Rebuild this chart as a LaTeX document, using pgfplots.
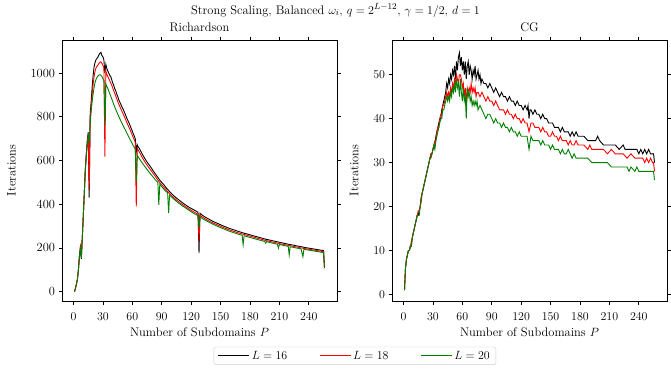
\documentclass[border=0pt]{standalone}
\usepackage{pgfplots}
\pgfplotsset{compat=1.18}
\definecolor{mplgreen}{RGB}{0,128,0}
\newcommand\figfont{\fontsize{12.5}{15}\selectfont}

\begin{document}
\begin{tikzpicture}
\path (0bp,0bp) rectangle (671bp,-370bp);
\pgfplotsset{
  panel/.style={
    width=275bp, height=261bp, scale only axis, anchor=north west,
    xmin=-11.75, xmax=268.75, xtick={0,30,...,240},
    font=\figfont,
    tick align=outside, major tick length=3.5bp,
    tick pos=both, xticklabel pos=lower, yticklabel pos=left,
    xticklabel style={yshift=-5bp},
    every tick/.style={black, line width=0.8bp},
    axis line style={line width=0.8bp},
    xlabel={Number of Subdomains $P$}, ylabel={Iterations},
    ylabel style={yshift=8bp},
    title style={anchor=south, yshift=-1bp},
    every axis plot/.append style={line width=0.9bp, mark=none},
  },
}
\node[anchor=base, font=\figfont] at (335.5bp,-14bp)
  {Strong Scaling, Balanced $\omega_i$, $q=2^{L-12}$, $\gamma=1/2$, $d=1$};

% Richardson
\begin{axis}[panel, at={(62bp,-40bp)}, title={Richardson},
  ymin=-43, ymax=1152, ytick={0,200,400,600,800,1000},
  yticklabels={0,200,400,600,800,1000},
  legend columns=3,
  legend image code/.code={\draw[#1] (0bp,0bp) -- (31bp,0bp);},
  legend style={at={(1.065,-0.21)}, anchor=center, draw=black!20,
    rounded corners=2bp, inner xsep=4bp, inner ysep=2bp,
    /tikz/every even column/.append style={column sep=30bp}},
]
\addplot[black] coordinates {(1,0)(2,15)(3,35)(4,57)(5,100)(6,160)(7,200)(8,150)(9,250)(10,350)(11,450)(12,560)(13,630)(14,690)(15,730)(16,430)(17,810)(18,870)(19,935)(20,990)(21,1030)(22,1050)(23,1062)(24,1068)(25,1075)(26,1085)(27,1092)(28,1095)(29,1080)(30,1075)(31,1060)(32,1000)(33,1040)(34,1020)(35,1010)(36,1000)(37,990)(38,984)(39,970)(40,955)(41,945)(42,930)(43,920)(44,905)(45,895)(46,880)(47,870)(48,860)(49,850)(50,840)(51,832)(52,820)(53,810)(54,798)(55,788)(56,778)(57,768)(58,757)(59,745)(60,735)(61,722)(62,712)(63,700)(64,640)(65,672)(66,662)(67,656)(68,648)(70,630)(72,615)(74,600)(76,587)(78,575)(80,562)(82,548)(84,536)(86,523)(88,510)(90,500)(92,490)(94,478)(96,468)(98,458)(100,449)(102,440)(104,432)(106,425)(108,418)(110,411)(112,404)(114,398)(116,392)(118,386)(120,381)(122,376)(124,371)(126,366)(127,363)(128,176)(129,359)(130,355)(132,348)(134,342)(136,337)(138,332)(140,327)(142,322)(144,318)(146,314)(148,310)(150,306)(152,302)(154,298)(156,295)(158,291)(160,288)(164,282)(168,276)(172,270)(176,265)(180,260)(184,255)(188,250)(192,245)(196,240)(200,236)(204,232)(208,228)(212,224)(216,220)(220,216)(224,213)(228,209)(232,206)(236,202)(240,199)(244,196)(248,193)(252,190)(255,188)(256,108)};
\addlegendentry{$L=16$}
\addplot[red] coordinates {(1,0)(2,15)(3,35)(4,57)(5,100)(6,160)(7,205)(8,170)(9,250)(10,350)(11,450)(12,555)(13,625)(14,680)(15,720)(16,465)(17,790)(18,845)(19,900)(20,950)(21,985)(22,1010)(23,1025)(24,1032)(25,1038)(26,1045)(27,1050)(28,1052)(29,1045)(30,1035)(31,1025)(32,618)(33,1010)(34,995)(35,985)(36,975)(37,965)(38,955)(39,945)(40,932)(41,920)(42,908)(43,896)(44,884)(45,872)(46,860)(47,850)(48,840)(49,830)(50,820)(51,810)(52,800)(53,790)(54,778)(55,768)(56,758)(57,748)(58,738)(59,727)(60,716)(61,705)(62,695)(63,683)(64,389)(65,656)(66,648)(67,640)(68,632)(70,615)(72,600)(74,586)(76,573)(78,561)(80,549)(82,536)(84,524)(86,511)(88,499)(90,489)(92,479)(94,468)(96,458)(98,449)(100,440)(102,431)(104,423)(106,416)(108,409)(110,402)(112,396)(114,390)(116,384)(118,378)(120,372)(122,367)(124,362)(126,357)(127,354)(128,229)(129,350)(130,346)(132,340)(134,334)(136,329)(138,324)(140,319)(142,315)(144,311)(146,307)(148,303)(150,299)(152,295)(154,291)(156,288)(158,284)(160,281)(164,275)(168,269)(172,264)(176,259)(180,254)(184,249)(188,244)(192,239)(196,234)(200,230)(204,226)(208,222)(212,218)(216,214)(220,211)(224,207)(228,204)(232,200)(236,197)(240,194)(244,191)(248,188)(252,185)(255,183)(256,110)};
\addlegendentry{$L=18$}
\addplot[mplgreen] coordinates {(1,0)(2,15)(3,35)(4,57)(5,100)(6,160)(7,200)(8,153)(9,250)(10,350)(11,450)(12,550)(13,615)(14,670)(15,710)(16,690)(17,770)(18,825)(19,870)(20,905)(21,935)(22,958)(23,972)(24,982)(25,988)(26,992)(27,993)(28,990)(29,985)(30,975)(31,965)(32,760)(33,950)(34,940)(35,930)(36,918)(37,906)(38,894)(39,882)(40,870)(41,858)(42,846)(43,835)(44,824)(45,814)(46,804)(47,794)(48,784)(49,774)(50,765)(51,756)(52,747)(53,738)(54,729)(55,720)(56,711)(57,702)(58,694)(59,686)(60,677)(61,668)(62,660)(63,652)(64,500)(65,625)(66,617)(67,610)(68,603)(70,590)(72,577)(74,565)(76,553)(78,542)(80,531)(82,520)(84,509)(86,501)(87,397)(88,492)(90,480)(92,470)(94,460)(96,452)(97,359)(98,442)(100,433)(102,425)(104,417)(106,410)(108,403)(110,396)(112,390)(114,384)(116,378)(118,372)(120,366)(122,360)(124,355)(126,350)(127,347)(128,290)(129,343)(130,339)(132,333)(134,328)(136,323)(138,318)(140,314)(142,309)(144,305)(146,301)(148,297)(150,293)(152,289)(154,286)(156,282)(158,278)(160,275)(164,269)(168,263)(172,258)(173,214)(174,256)(176,253)(180,248)(184,243)(188,238)(192,233)(195,230)(196,222)(197,229)(200,225)(204,221)(208,217)(209,199)(210,216)(212,214)(216,210)(219,207)(220,168)(221,205)(224,203)(228,199)(232,196)(234,160)(235,194)(236,193)(240,190)(244,187)(248,184)(252,181)(255,178)(256,112)};
\addlegendentry{$L=20$}
\end{axis}

% CG
\begin{axis}[panel, at={(392bp,-40bp)}, title={CG},
  ymin=-1.5, ymax=57.9, ytick={0,10,...,50},
]
\addplot[black] coordinates {(1,1)(2,6)(3,8)(4,9)(5,10)(6,10)(7,11)(8,11)(9,13)(10,14)(11,15)(12,16)(13,17)(14,18)(15,18)(16,19)(17,20)(18,22)(19,23)(20,24)(21,25)(22,26)(23,27)(24,28)(25,29)(26,30)(27,31)(28,32)(29,32)(30,33)(31,34)(32,34)(33,36)(34,37)(35,38)(36,39)(37,40)(38,40)(39,42)(40,43)(41,44)(42,45)(43,46)(44,48)(45,47)(46,49)(47,48)(48,50)(49,49)(50,51)(51,50)(52,52)(53,49)(54,53)(55,51)(56,54)(57,55)(58,52)(59,54)(60,51)(61,53)(62,50)(63,53)(64,49)(65,52)(66,53)(67,50)(68,52)(69,51)(70,49)(71,51)(72,50)(73,52)(74,49)(75,50)(76,51)(77,49)(78,50)(79,48)(80,49)(82,48)(84,48)(86,47)(88,48)(90,47)(92,46)(94,47)(96,46)(98,45)(100,46)(102,45)(104,45)(106,44)(108,45)(110,44)(112,44)(114,43)(116,44)(118,43)(120,43)(122,42)(124,43)(126,42)(127,43)(128,40)(129,42)(130,42)(132,41)(134,42)(136,41)(138,41)(140,40)(142,41)(144,40)(146,40)(148,39)(150,39)(152,39)(154,38)(156,38)(158,38)(160,37)(162,38)(164,37)(166,37)(168,37)(170,36)(172,37)(174,36)(176,37)(178,36)(180,36)(184,36)(188,35)(192,35)(196,35)(198,36)(200,35)(204,34)(208,34)(212,34)(216,34)(220,33)(224,34)(226,33)(230,33)(234,33)(238,33)(240,32)(242,33)(244,32)(246,33)(248,32)(250,33)(252,32)(254,32)(255,32)(256,30)};
\addplot[red] coordinates {(1,1)(2,6)(3,8)(4,9)(5,10)(6,10)(7,11)(8,12)(9,13)(10,14)(11,15)(12,16)(13,17)(14,18)(15,19)(16,19)(17,20)(18,22)(19,23)(20,24)(21,25)(22,26)(23,27)(24,28)(25,29)(26,30)(27,31)(28,32)(29,32)(30,33)(31,34)(32,35)(33,35)(34,37)(35,38)(36,38)(37,40)(38,41)(39,41)(40,43)(41,43)(42,44)(43,45)(44,46)(45,45)(46,46)(47,45)(48,47)(49,46)(50,48)(51,47)(52,49)(53,48)(54,50)(55,49)(56,48)(57,50)(58,50)(59,49)(60,47)(61,48)(62,45)(63,47)(64,43)(65,47)(66,46)(67,47)(68,46)(69,48)(70,46)(71,47)(72,46)(73,47)(74,45)(75,46)(76,46)(78,45)(80,46)(82,45)(84,44)(86,45)(88,44)(90,44)(92,43)(94,44)(96,43)(98,42)(100,42)(102,42)(104,41)(106,42)(108,41)(110,41)(112,40)(114,41)(116,40)(118,40)(120,39)(122,40)(124,39)(126,39)(128,37)(130,39)(132,39)(134,38)(136,38)(138,38)(140,37)(142,38)(144,37)(146,37)(148,36)(150,36)(152,37)(154,36)(156,36)(158,35)(160,36)(162,35)(164,35)(166,35)(168,34)(170,35)(172,34)(174,34)(176,35)(178,34)(180,34)(184,34)(188,33)(190,34)(192,33)(196,33)(200,33)(204,33)(208,32)(212,33)(216,32)(220,32)(224,32)(228,31)(232,32)(236,31)(240,31)(244,31)(246,30)(248,31)(250,30)(252,31)(254,30)(255,30)(256,28)};
\addplot[mplgreen] coordinates {(1,1)(2,6)(3,8)(4,9)(5,10)(6,10)(7,11)(8,11)(9,13)(10,14)(11,15)(12,16)(13,17)(14,18)(15,18)(16,18)(17,20)(18,21)(19,23)(20,24)(21,25)(22,26)(23,27)(24,28)(25,29)(26,30)(27,31)(28,31)(29,32)(30,33)(31,34)(32,33)(33,35)(34,36)(35,37)(36,38)(37,39)(38,40)(39,40)(40,42)(41,42)(42,43)(43,44)(44,45)(45,44)(46,45)(47,44)(48,46)(49,45)(50,47)(51,46)(52,48)(53,46)(54,49)(55,47)(56,48)(57,45)(58,49)(59,46)(60,44)(61,47)(62,44)(63,45)(64,40)(65,47)(66,45)(67,46)(68,44)(69,45)(70,43)(71,44)(72,43)(73,44)(74,43)(75,44)(76,42)(78,43)(80,42)(82,41)(84,40)(86,41)(88,41)(90,40)(92,39)(94,40)(96,39)(98,39)(100,38)(102,39)(104,38)(106,38)(108,37)(110,38)(112,37)(114,37)(116,36)(118,37)(120,36)(122,36)(124,36)(126,36)(128,33)(130,36)(132,35)(134,35)(136,35)(138,35)(140,34)(142,35)(144,34)(146,34)(148,34)(150,33)(152,34)(154,33)(156,33)(158,33)(160,32)(162,33)(164,32)(166,32)(168,33)(170,32)(172,31)(174,32)(176,31)(180,31)(184,31)(188,31)(192,30)(196,30)(200,30)(204,30)(208,30)(212,29)(216,29)(220,29)(224,29)(228,29)(230,28)(232,29)(236,28)(238,29)(240,28)(242,28)(244,28)(246,28)(248,28)(250,28)(252,28)(254,28)(255,28)(256,26)};
\end{axis}
\end{tikzpicture}
\end{document}
